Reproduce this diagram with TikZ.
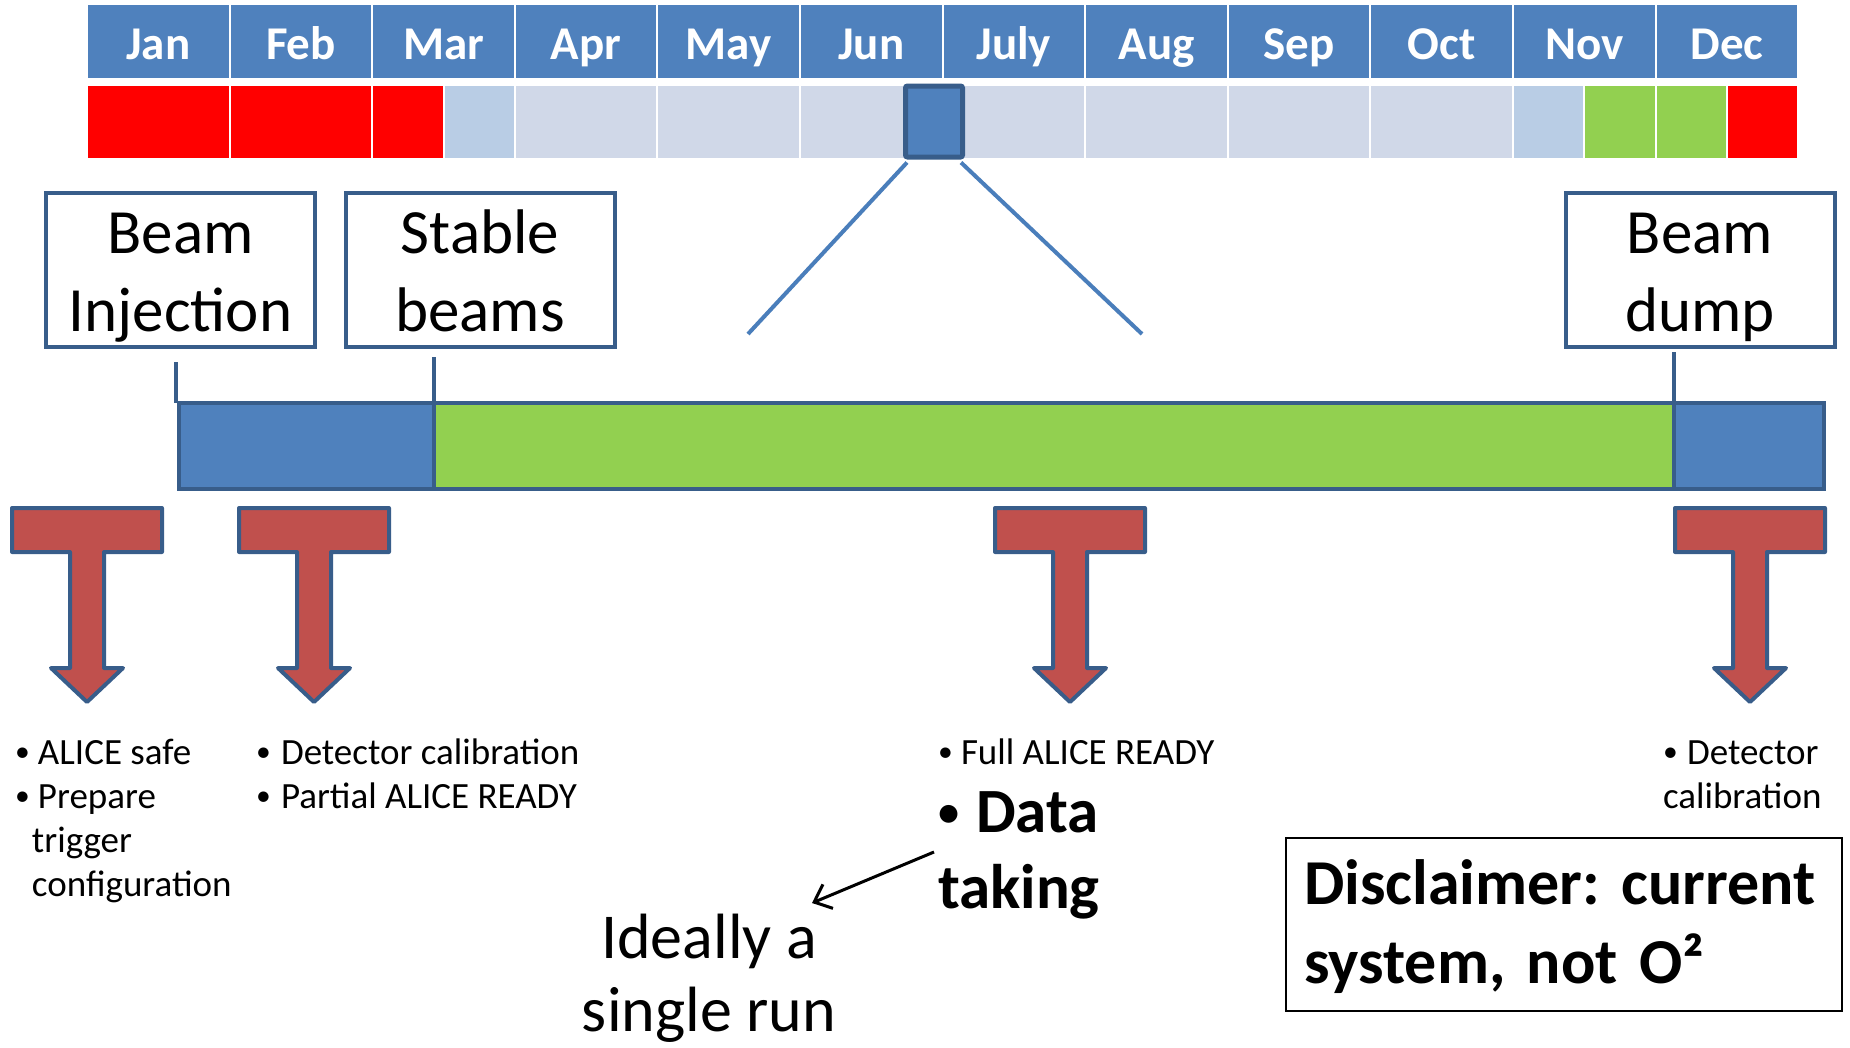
\documentclass[tikz,border=0pt]{standalone}
\usepackage{fontspec}
\setmainfont{Carlito}
\usetikzlibrary{calc,arrows.meta}

\definecolor{hdrblue}{HTML}{4F81BD}
\definecolor{edgeblue}{HTML}{385D8A}
\definecolor{zoomblue}{HTML}{4A7EBB}
\definecolor{offred}{HTML}{FF0000}
\definecolor{rampblue}{HTML}{B9CDE5}
\definecolor{idlegrey}{HTML}{D0D8E8}
\definecolor{beamgreen}{HTML}{92D050}
\definecolor{arrowred}{HTML}{C0504D}

% small bullet set in a box of fixed width, so the item text starts at a known place
\newcommand\itembullet[1]{\makebox[#1][l]{\raisebox{0.06em}{\scalebox{0.8}{\mdseries\textbullet}}}}

\tikzset{
  monthcell/.style={rectangle, fill=hdrblue, text=white, inner sep=0pt, outer sep=0pt,
    minimum width=140.6pt, minimum height=73pt, anchor=north west,
    font=\fontsize{47}{56}\selectfont\bfseries, text height=40pt, text depth=5pt},
  statecell/.style={rectangle, inner sep=0pt, outer sep=0pt, minimum height=72pt,
    anchor=north west},
  phasebox/.style={rectangle, draw=edgeblue, line width=4pt, fill=white, inner sep=0pt,
    outer sep=0pt, minimum width=269pt, minimum height=150pt, align=center,
    font=\fontsize{63}{78}\selectfont},
  barseg/.style={rectangle, draw=edgeblue, line width=4pt, inner sep=0pt, outer sep=0pt,
    minimum height=86pt, anchor=north west},
  tick/.style={draw=edgeblue, line width=4pt},
  zoomline/.style={draw=zoomblue, line width=4pt},
  listtext/.style={anchor=north west, inner sep=0pt, outer sep=0pt, align=left,
    font=\fontsize{37}{44}\selectfont},
  pics/tarrow/.style={code={
    \draw[draw=edgeblue, fill=arrowred, line width=4pt, line join=round]
      (-75,0) -- (75,0) -- (75,44) -- (17,44) -- (17,160) -- (36,160) -- (0,194)
      -- (-36,160) -- (-17,160) -- (-17,44) -- (-75,44) -- cycle;
  }},
}

\begin{document}
\begin{tikzpicture}[x=1pt, y=-1pt]
  \fill[white] (0,0) rectangle (1850,1047);
  \useasboundingbox (0,0) rectangle (1850,1047);

  % month header
  \foreach \m [count=\i from 0] in {Jan,Feb,Mar,Apr,May,Jun,July,Aug,Sep,Oct,Nov,Dec}
    \node[monthcell] (m\i) at ({88+142.6*\i},5) {\m};

  % machine state per month (whole months)
  \foreach \i/\c in {0/offred,1/offred,3/idlegrey,4/idlegrey,5/idlegrey,6/idlegrey,
                     7/idlegrey,8/idlegrey,9/idlegrey}
    \node[statecell, fill=\c, minimum width=140.6pt] (s\i) at ({88+142.6*\i},86) {};
  % months split in two halves
  \foreach \i/\ca/\cb in {2/offred/rampblue,10/rampblue/beamgreen,11/beamgreen/offred}{
    \node[statecell, fill=\ca, minimum width=69.3pt] (s\i a) at ({88+142.6*\i},86) {};
    \node[statecell, fill=\cb, minimum width=69.3pt] (s\i b) at ({88+142.6*\i+71.3},86) {};
  }

  % selected fill
  \node[rectangle, draw=edgeblue, fill=hdrblue, line width=5pt, rounded corners=2pt,
        inner sep=0pt, minimum width=57pt, minimum height=71pt] (sel) at (934,121.5) {};
  \coordinate (zl) at (748,334);
  \coordinate (zr) at (1142,334);
  \draw[zoomline] ($(sel.south west)+(4,3)$) -- (zl);
  \draw[zoomline] ($(sel.south east)+(-4,3)$) -- (zr);

  % phase labels
  \node[phasebox] (inj) at (180.5,270) {\rule{0pt}{60pt}Beam\\Injection\rule[-16pt]{0pt}{16pt}};
  \node[phasebox] (stab) at (480,270) {\rule{0pt}{60pt}Stable\\beams\rule[-16pt]{0pt}{16pt}};
  \node[phasebox] (dump) at (1700,270) {\rule{0pt}{60pt}Beam\\dump\rule[-16pt]{0pt}{16pt}};

  % fill timeline
  \node[barseg, fill=beamgreen, minimum width=1240pt] (green) at (434,403) {};
  \node[barseg, fill=hdrblue, minimum width=255pt] (blueA) at (179,403) {};
  \node[barseg, fill=hdrblue, minimum width=150pt] (blueB) at (1674,403) {};

  \coordinate (tInj) at (176,362);
  \coordinate (tStab) at (434,357);
  \coordinate (tDump) at (1674,352);
  \draw[tick] (tInj) -- (tInj |- green.north);
  \draw[tick] (tStab) -- (tStab |- green.north);
  \draw[tick] (tDump) -- (tDump |- green.north);

  % activity markers
  \pic (a1) at (87,508) {tarrow};
  \pic (a2) at (314,508) {tarrow};
  \pic (a3) at (1070,508) {tarrow};
  \pic (a4) at (1750,508) {tarrow};

  % activity lists
  \node[listtext] (l1) at (15,728) {\rule{0pt}{36pt}\itembullet{23pt}ALICE safe\\
    \itembullet{23pt}Prepare\\ \hspace*{17pt}trigger\\ \hspace*{17pt}configuration};
  \node[listtext] (l2) at (256,728) {\rule{0pt}{36pt}\itembullet{25pt}Detector calibration\\
    \itembullet{25pt}Partial ALICE READY};
  \node[listtext] (l3) at (938,728) {\rule{0pt}{36pt}\itembullet{23pt}Full ALICE READY};
  \node[listtext, font=\fontsize{63}{76}\selectfont\bfseries] (l3b) at (936,772)
    {\rule{0pt}{60pt}\itembullet{40pt}Data\\ \hspace*{2pt}taking};
  \node[listtext] (l4) at (1663,728) {\rule{0pt}{36pt}\itembullet{24pt}Detector\\calibration};

  \node[anchor=north, inner sep=0pt, align=center, font=\fontsize{64}{73}\selectfont]
    (ideal) at (709,893) {\rule{0pt}{65pt}Ideally a\\single run};
  \coordinate (dtA) at (934,852);
  \coordinate (idA) at (812,903);
  \draw[line width=3pt, -{Straight Barb[length=15pt,width=26pt]}] (dtA) -- (idA);

  % note
  \node[rectangle, draw=black, line width=2.5pt, inner sep=0pt, minimum width=556pt,
        minimum height=173pt, text width=520pt, align=left,
        font=\fontsize{64}{79}\selectfont\bfseries] (note) at (1564,924.5)
    {\rule{0pt}{56pt}\mbox{Disclaimer:\ current}\\\mbox{system,\ not O²}\rule[-18pt]{0pt}{18pt}};
\end{tikzpicture}
\end{document}
